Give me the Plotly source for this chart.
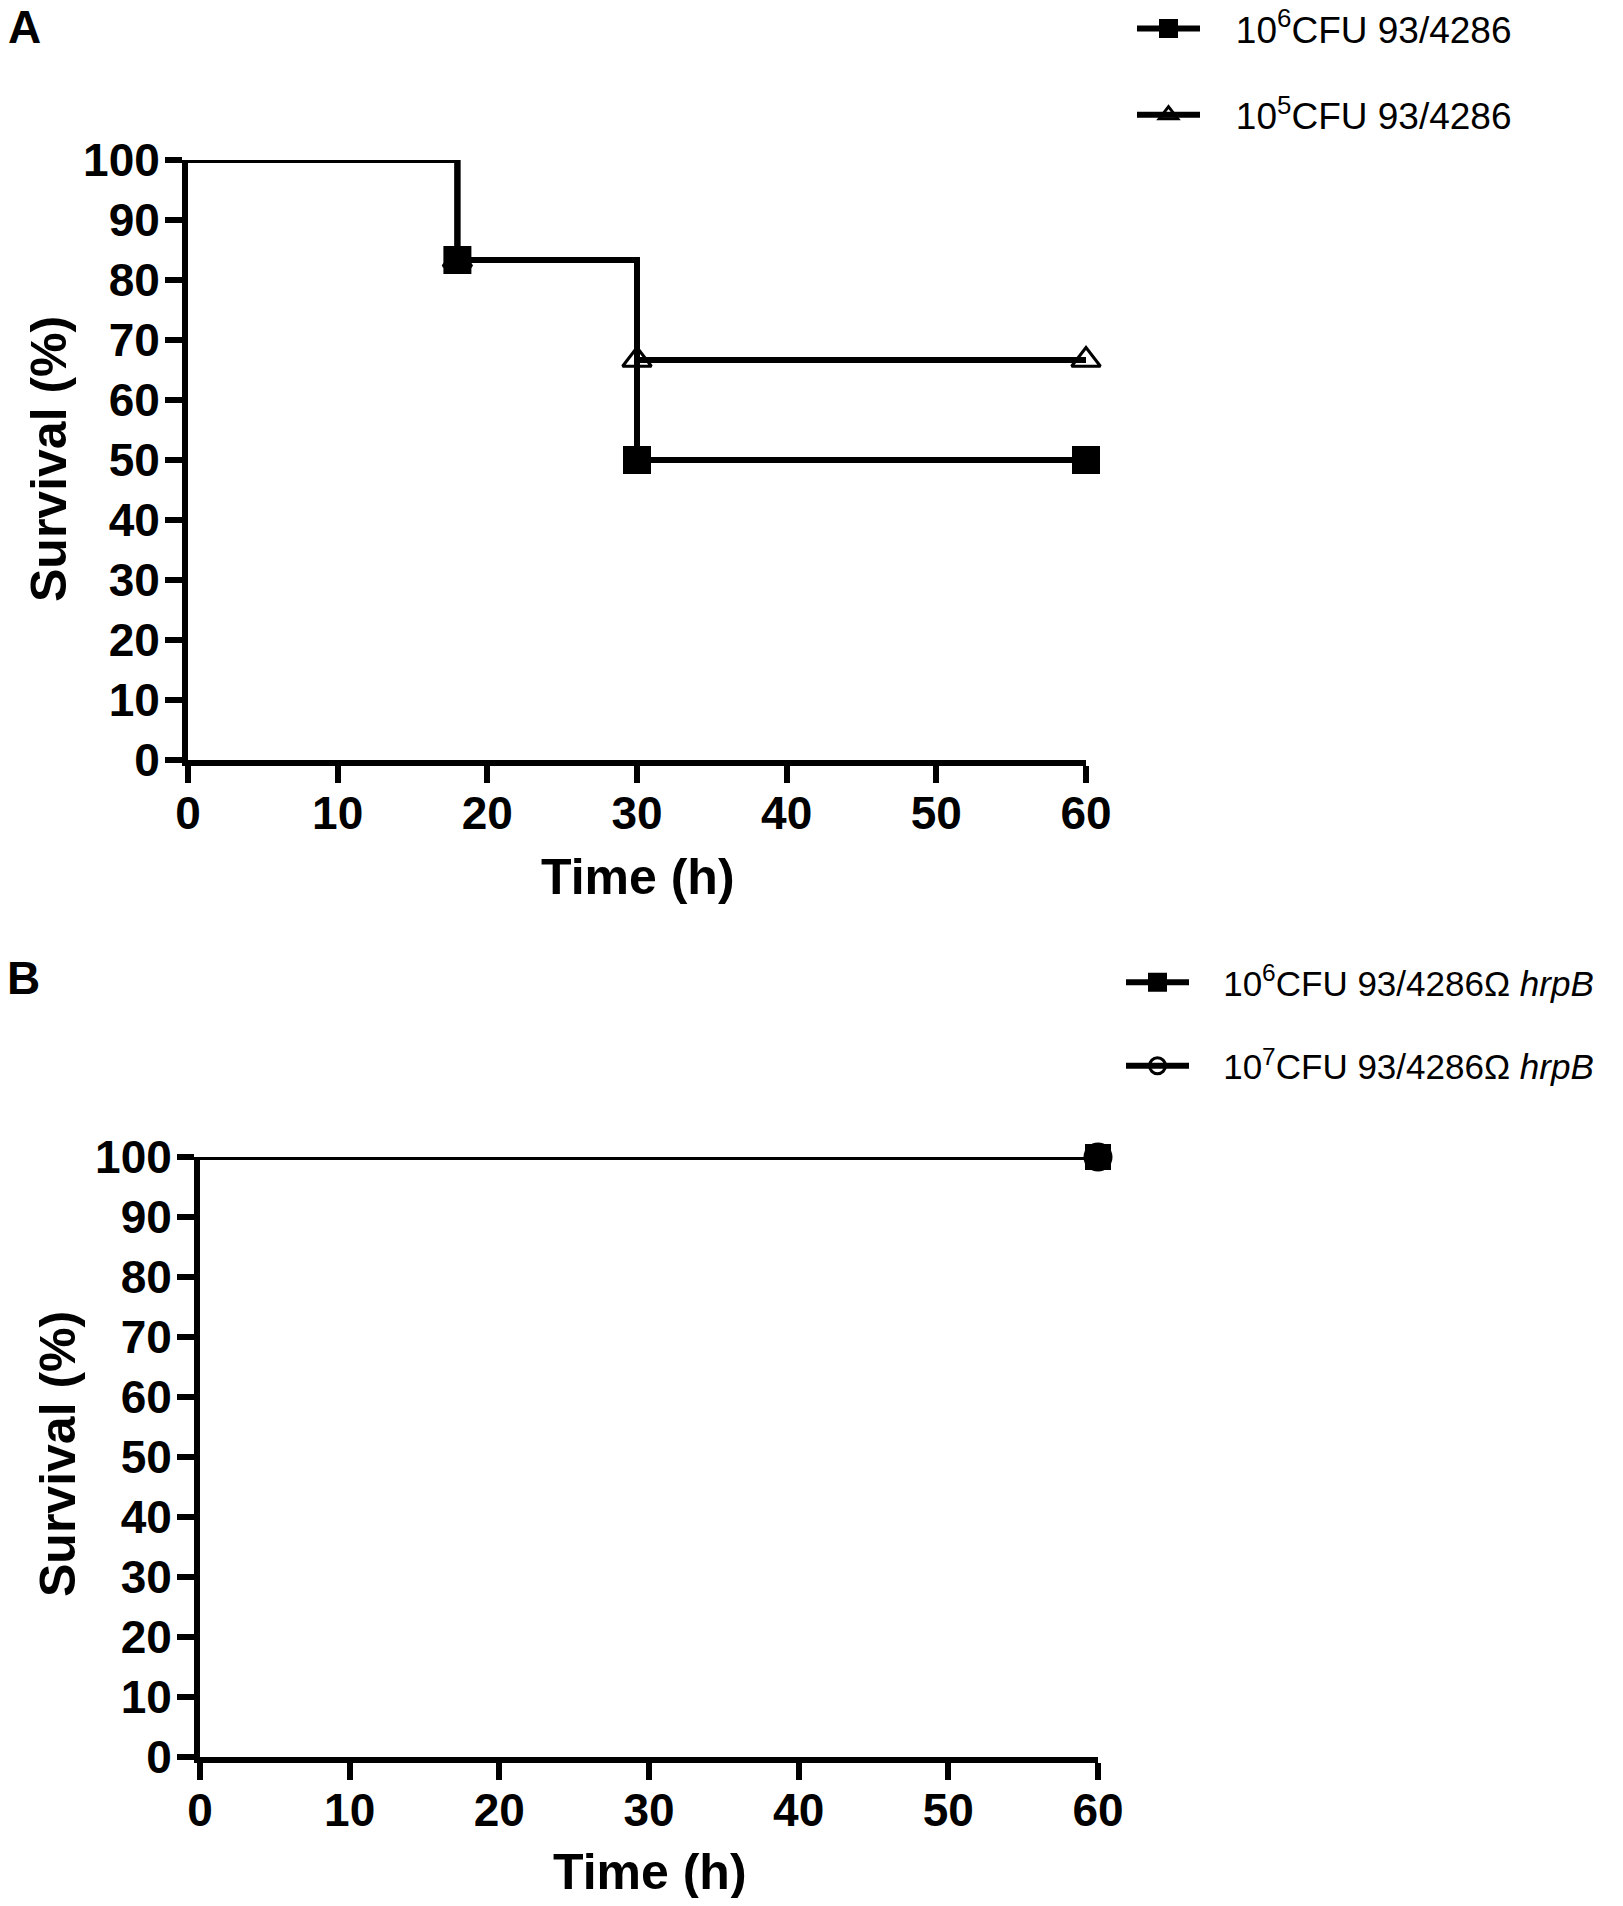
import plotly.graph_objects as go

# panel A: 93/4286 wild type
time_a = [0, 18, 30, 60]
surv_a_1e6 = [100, 83.33, 50, 50]
surv_a_1e5 = [100, 83.33, 66.67, 66.67]

# panel B: 93/4286 omega hrpB
time_b = [0, 60]
surv_b_1e6 = [100, 100]
surv_b_1e7 = [100, 100]

name_a_1e6 = "10<sup>6</sup>CFU 93/4286"
name_a_1e5 = "10<sup>5</sup>CFU 93/4286"
name_b_1e6 = "10<sup>6</sup>CFU 93/4286Ω <i>hrpB</i>"
name_b_1e7 = "10<sup>7</sup>CFU 93/4286Ω <i>hrpB</i>"

x_ticks = [0, 10, 20, 30, 40, 50, 60]
y_ticks = [0, 10, 20, 30, 40, 50, 60, 70, 80, 90, 100]

# the page puts the figure 8px in from the top-left corner
W, H = 1615, 1890
FONT = "Liberation Sans"
LW = 6
GAP = "&nbsp;&nbsp;&nbsp;"


def add_curve(fig, t, s, name, symbol, size, xa, ya, leg, rank):
    group = leg + str(rank)
    # step line clipped to the plot area (so the 100 % line is half hidden)
    fig.add_trace(go.Scatter(x=t, y=s, mode="lines", line=dict(color="black", width=LW, shape="hv"),
                             xaxis=xa, yaxis=ya, showlegend=False, legendgroup=group, hoverinfo="skip"))
    # event markers, not clipped
    fig.add_trace(go.Scatter(x=t[1:], y=s[1:], mode="lines+markers", name=GAP + name,
                             line=dict(color="black", width=LW, shape="hv"),
                             marker=dict(symbol=symbol, size=size, color="black",
                                         line=dict(color="black", width=3)),
                             cliponaxis=False, xaxis=xa, yaxis=ya, legend=leg, legendrank=rank,
                             legendgroup=group))


fig = go.Figure()
add_curve(fig, time_a, surv_a_1e5, name_a_1e5, "triangle-up-open", 25, "x", "y", "legend", 2)
add_curve(fig, time_a, surv_a_1e6, name_a_1e6, "square", 25, "x", "y", "legend", 1)
add_curve(fig, time_b, surv_b_1e6, name_b_1e6, "square", 23, "x2", "y2", "legend2", 1)
add_curve(fig, time_b, surv_b_1e7, name_b_1e7, "circle-open", 26, "x2", "y2", "legend2", 2)


def px_x(p):
    return p / W


def px_y(p):
    return 1 - p / H


axis_common = dict(showline=True, linewidth=LW, linecolor="black", ticks="outside", ticklen=17,
                   tickwidth=LW, tickcolor="black", showgrid=False, zeroline=False, automargin=False,
                   tickfont=dict(family=FONT, size=46, color="black", weight="bold"))
legend_common = dict(xanchor="left", yanchor="top", tracegroupgap=35, itemwidth=63,
                     traceorder="grouped", bgcolor="rgba(0,0,0,0)")


def label(text, x, y, angle=0, size=50):
    return dict(text="<b>%s</b>" % text, x=px_x(x), y=px_y(y), xref="paper", yref="paper",
                xanchor="center", yanchor="middle", textangle=angle, showarrow=False,
                font=dict(family=FONT, size=size, color="black"))


fig.update_layout(
    width=W, height=H,
    margin=dict(l=0, r=0, t=0, b=0, autoexpand=False),
    plot_bgcolor="white", paper_bgcolor="white",
    xaxis=dict(domain=[px_x(180), px_x(1078)], range=[0, 60], tickvals=x_ticks, anchor="y",
               ticklabelstandoff=-9, **axis_common),
    yaxis=dict(domain=[px_y(752), px_y(152)], range=[0, 100], tickvals=y_ticks, anchor="x",
               ticklabelstandoff=-4, **axis_common),
    xaxis2=dict(domain=[px_x(192), px_x(1090)], range=[0, 60], tickvals=x_ticks, anchor="y2",
                ticklabelstandoff=-9, **axis_common),
    yaxis2=dict(domain=[px_y(1749), px_y(1149)], range=[0, 100], tickvals=y_ticks, anchor="x2",
                ticklabelstandoff=-4, **axis_common),
    legend=dict(x=px_x(1124), y=px_y(-10), font=dict(family=FONT, size=37, color="black"),
                **legend_common),
    legend2=dict(x=px_x(1113), y=px_y(945), font=dict(family=FONT, size=35, color="black"),
                 **legend_common),
    annotations=[
        label("A", 16, 19, size=46),
        label("B", 15, 970, size=46),
        label("Time (h)", 630, 869),
        label("Survival (%)", 41, 451, angle=-90),
        label("Time (h)", 642, 1864),
        label("Survival (%)", 50, 1446, angle=-90),
    ],
)

fig.write_html("out.html")
